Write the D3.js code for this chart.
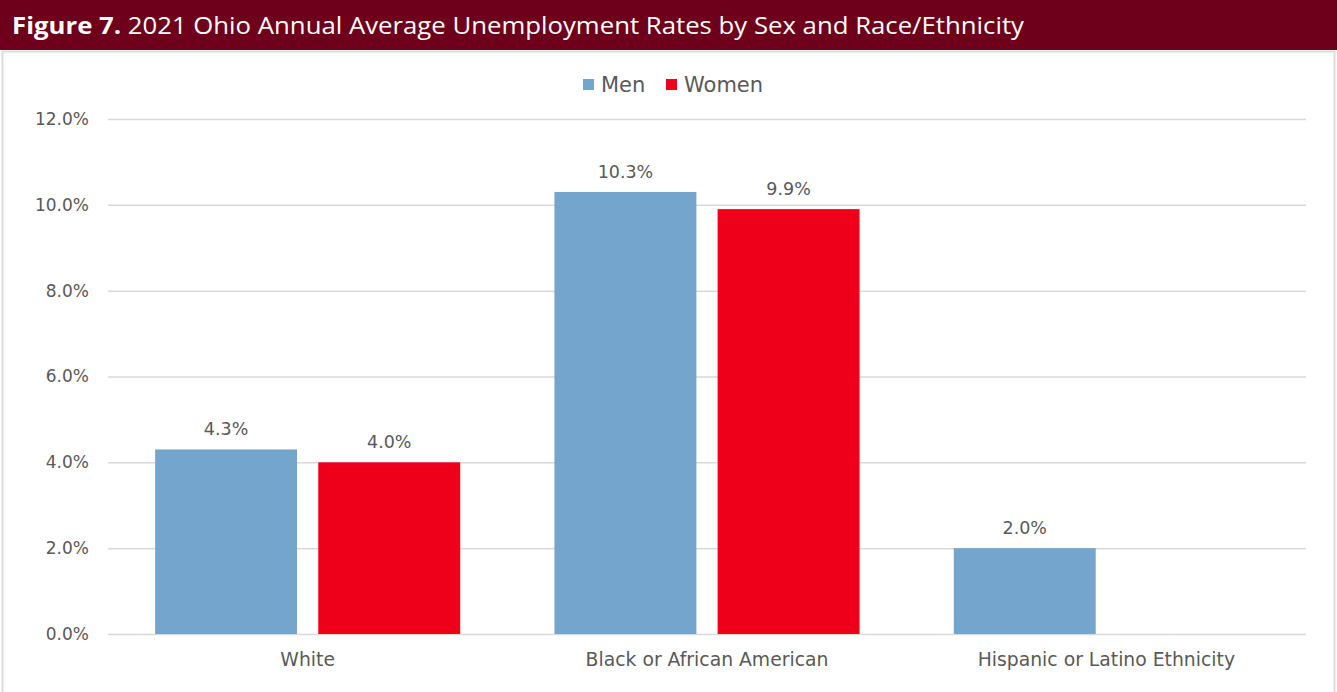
<!DOCTYPE html>
<html>
<head>
<meta charset="utf-8">
<script src="https://cdn.jsdelivr.net/npm/d3@7"></script>
<style>
  body { margin: 0; background: #fff; }
  svg { display: block; }
</style>
</head>
<body>
<div id="chart"></div>
<script>
// 2021 Ohio unemployment by sex and race/ethnicity
const categories = ['White', 'Black or African American', 'Hispanic or Latino Ethnicity'];
const seriesNames = ['Men', 'Women'];
const menValues = [4.3, 10.3, 2.0];
const womenValues = [4.0, 9.9, null];
const yTicks = [0, 2, 4, 6, 8, 10, 12];

const colors = {Men: '#74a6cd', Women: '#ef001a'};
const W = 1337, H = 692;
const margin = {top: 119, right: 31, bottom: 58, left: 108};

const svg = d3.select('#chart').append('svg')
  .attr('width', W)
  .attr('height', H);

// header band
svg.append('rect')
  .attr('x', 0).attr('y', 0)
  .attr('width', W).attr('height', 50)
  .attr('fill', '#6f001b');

// light frame around chart area
svg.append('rect')
  .attr('x', 2.5).attr('y', 51.5)
  .attr('width', W - 5).attr('height', H)
  .attr('fill', '#fff')
  .attr('stroke', '#dcdcdc')
  .attr('stroke-width', 2);

const title = svg.append('text')
  .attr('x', 12).attr('y', 34)
  .attr('fill', '#fff')
  .attr('font-family', 'Open Sans, Noto Sans, sans-serif')
  .attr('font-size', '23px')
  .attr('textLength', 1012)
  .attr('lengthAdjust', 'spacingAndGlyphs');
title.append('tspan').attr('font-weight', '700').text('Figure 7.');
title.append('tspan').text(' 2021 Ohio Annual Average Unemployment Rates by Sex and Race/Ethnicity');

const plotW = W - margin.left - margin.right;
const plotH = H - margin.top - margin.bottom;
const g = svg.append('g').attr('transform', `translate(${margin.left},${margin.top})`);

const x0 = d3.scaleBand()
  .domain(categories)
  .range([0, plotW])
  .paddingInner(0.236)
  .paddingOuter(0.118);

const x1 = d3.scaleBand()
  .domain(seriesNames)
  .range([0, x0.bandwidth()])
  .paddingInner(0.13)
  .paddingOuter(0);

const y = d3.scaleLinear().domain([0, 12]).range([plotH, 0]);

const font = 'DejaVu Sans, sans-serif';
const textCol = '#595959';

// gridlines
g.append('g')
  .attr('class', 'grid')
  .call(d3.axisLeft(y).tickValues(yTicks).tickSize(-plotW).tickFormat(''))
  .call(s => s.select('.domain').remove())
  .selectAll('line')
  .attr('stroke', '#d9d9d9')
  .attr('stroke-width', 1.5);

// y axis labels
g.append('g')
  .call(d3.axisLeft(y).tickValues(yTicks).tickSize(0).tickPadding(19).tickFormat(d => d.toFixed(1) + '%'))
  .call(s => s.select('.domain').remove())
  .selectAll('text')
  .attr('fill', textCol)
  .style('font-family', font)
  .style('font-size', '17px');

// x axis labels
g.append('g')
  .attr('transform', `translate(0,${plotH})`)
  .call(d3.axisBottom(x0).tickSize(0).tickPadding(19))
  .call(s => s.select('.domain').remove())
  .selectAll('text')
  .attr('fill', textCol)
  .style('font-family', font)
  .style('font-size', '18.8px');

const rows = categories.map((c, i) => ({
  cat: c,
  vals: [{key: 'Men', value: menValues[i]}, {key: 'Women', value: womenValues[i]}]
}));

const groups = g.selectAll('.grp')
  .data(rows)
  .enter().append('g')
  .attr('class', 'grp')
  .attr('transform', d => `translate(${x0(d.cat)},0)`);

const bars = groups.selectAll('.bar')
  .data(d => d.vals.filter(v => v.value != null))
  .enter();

bars.append('rect')
  .attr('x', d => x1(d.key))
  .attr('y', d => y(d.value))
  .attr('width', x1.bandwidth())
  .attr('height', d => plotH - y(d.value))
  .attr('fill', d => colors[d.key]);

bars.append('text')
  .attr('x', d => x1(d.key) + x1.bandwidth() / 2)
  .attr('y', d => y(d.value) - 14)
  .attr('text-anchor', 'middle')
  .attr('fill', textCol)
  .style('font-family', font)
  .style('font-size', '17.5px')
  .text(d => d.value.toFixed(1) + '%');

// legend
const legend = svg.append('g').attr('transform', 'translate(583,79)');
const legendX = [0, 83];
seriesNames.forEach((s, i) => {
  const item = legend.append('g').attr('transform', `translate(${legendX[i]},0)`);
  item.append('rect')
    .attr('x', 0).attr('y', 0)
    .attr('width', 11).attr('height', 11)
    .attr('fill', colors[s]);
  item.append('text')
    .attr('x', 18).attr('y', 13)
    .attr('fill', textCol)
    .style('font-family', font)
    .style('font-size', '21px')
    .text(s);
});
</script>
</body>
</html>
